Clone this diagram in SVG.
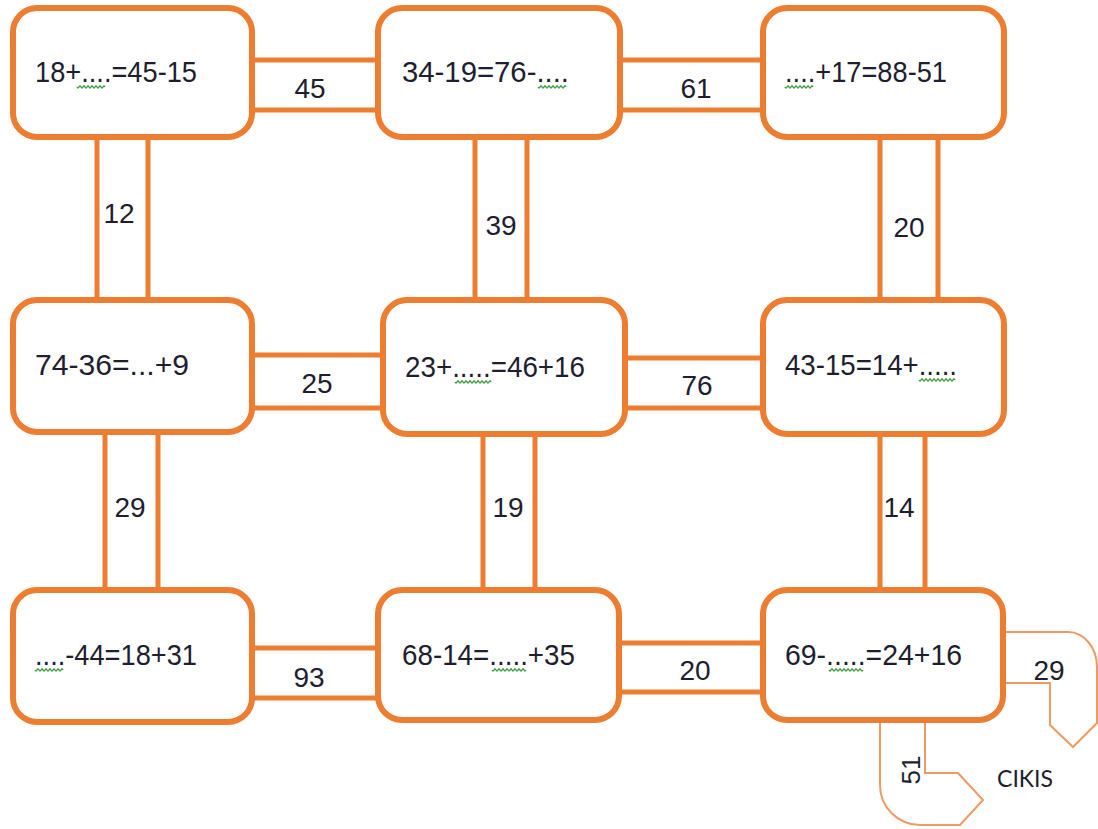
<svg xmlns="http://www.w3.org/2000/svg" width="1098" height="829" viewBox="0 0 1098 829">
<style>
.box{fill:#fff;stroke:#ED7D31;stroke-width:6}
.con{stroke:#ED7D31;stroke-width:5;fill:none}
.exit{stroke:#EE9A62;stroke-width:2;fill:none}
.eq{font-family:"Liberation Sans",Arial,sans-serif;font-size:30px;fill:#1e1e30}
.lbl{font-family:"Liberation Sans",Arial,sans-serif;font-size:28px;fill:#1e1e30;text-anchor:middle}
.wav{stroke:#3c9a3c;stroke-width:1.3;fill:none}
.cik{font-family:Lato,"Liberation Sans",sans-serif;font-size:23px;fill:#1e1e30;text-anchor:middle}
</style>
<rect width="1098" height="829" fill="#fff"/>
<g id="connectors">
<path class="con" d="M252,60H378M252,110H378"/>
<path class="con" d="M620,60H763M620,110H763"/>
<path class="con" d="M252,355H383M252,408H383"/>
<path class="con" d="M625,358H763M625,408H763"/>
<path class="con" d="M252,648H378M252,698H378"/>
<path class="con" d="M619,643H763M619,692H763"/>
<path class="con" d="M97,137V300M148,137V300"/>
<path class="con" d="M475,137V300M527,137V300"/>
<path class="con" d="M880,137V300M938,137V300"/>
<path class="con" d="M105,432V590M158,432V590"/>
<path class="con" d="M483,434V590M535,434V590"/>
<path class="con" d="M880,434V590M925,434V590"/>
<path class="exit" d="M1005,632H1068A29,35 0 0 1 1097,667V723L1073,747L1050,725V683H1005"/>
<path class="exit" d="M880,722V785A40,40 0 0 0 920,825H960L983,800L958,773H925V722"/>
<text class="lbl" x="310" y="98">45</text>
<text class="lbl" x="696" y="98">61</text>
<text class="lbl" x="317" y="393">25</text>
<text class="lbl" x="697" y="395">76</text>
<text class="lbl" x="309" y="687">93</text>
<text class="lbl" x="695" y="680">20</text>
<text class="lbl" x="119" y="223">12</text>
<text class="lbl" x="501" y="235">39</text>
<text class="lbl" x="909" y="237">20</text>
<text class="lbl" x="130" y="517">29</text>
<text class="lbl" x="508" y="517">19</text>
<text class="lbl" x="899" y="517">14</text>
<text class="lbl" x="1049" y="680">29</text>
<text class="lbl" transform="translate(920,770) rotate(-90)" style="font-size:26px">51</text>
<text class="cik" x="1025" y="787">CIKIS</text>
</g>
<g id="n1"><rect class="box" x="13" y="8" width="239" height="129" rx="24"/>
<text class="eq" x="35" y="82" textLength="162" lengthAdjust="spacingAndGlyphs">18+....=45-15</text>
<path class="wav" d="M77,87q1,2 2,0t2,0t2,0t2,0t2,0t2,0t2,0t2,0t2,0t2,0t2,0t2,0t2,0t2,0"/></g>
<g id="n2"><rect class="box" x="378" y="8" width="242" height="129" rx="24"/>
<text class="eq" x="402" y="82" textLength="167" lengthAdjust="spacingAndGlyphs">34-19=76-....</text>
<path class="wav" d="M538,87q1,2 2,0t2,0t2,0t2,0t2,0t2,0t2,0t2,0t2,0t2,0t2,0t2,0t2,0t2,0"/></g>
<g id="n3"><rect class="box" x="763" y="8" width="241" height="129" rx="24"/>
<text class="eq" x="785" y="82" textLength="162" lengthAdjust="spacingAndGlyphs">....+17=88-51</text>
<path class="wav" d="M785,87q1,2 2,0t2,0t2,0t2,0t2,0t2,0t2,0t2,0t2,0t2,0t2,0t2,0t2,0t2,0"/></g>
<g id="n4"><rect class="box" x="13" y="300" width="239" height="132" rx="24"/>
<text class="eq" x="35" y="375" textLength="154" lengthAdjust="spacingAndGlyphs">74-36=...+9</text></g>
<g id="n5"><rect class="box" x="383" y="300" width="242" height="134" rx="24"/>
<text class="eq" x="405" y="377" textLength="180" lengthAdjust="spacingAndGlyphs">23+.....=46+16</text>
<path class="wav" d="M455,382q1,2 2,0t2,0t2,0t2,0t2,0t2,0t2,0t2,0t2,0t2,0t2,0t2,0t2,0t2,0t2,0t2,0t2,0t2,0"/></g>
<g id="n6"><rect class="box" x="763" y="300" width="241" height="134" rx="24"/>
<text class="eq" x="785" y="375" textLength="172" lengthAdjust="spacingAndGlyphs">43-15=14+.....</text>
<path class="wav" d="M919,380q1,2 2,0t2,0t2,0t2,0t2,0t2,0t2,0t2,0t2,0t2,0t2,0t2,0t2,0t2,0t2,0t2,0t2,0t2,0"/></g>
<g id="n7"><rect class="box" x="13" y="590" width="239" height="132" rx="24"/>
<text class="eq" x="35" y="665" textLength="162" lengthAdjust="spacingAndGlyphs">....-44=18+31</text>
<path class="wav" d="M35,670q1,2 2,0t2,0t2,0t2,0t2,0t2,0t2,0t2,0t2,0t2,0t2,0t2,0t2,0t2,0"/></g>
<g id="n8"><rect class="box" x="378" y="590" width="241" height="130" rx="24"/>
<text class="eq" x="402" y="665" textLength="173" lengthAdjust="spacingAndGlyphs">68-14=.....+35</text>
<path class="wav" d="M492,670q1,2 2,0t2,0t2,0t2,0t2,0t2,0t2,0t2,0t2,0t2,0t2,0t2,0t2,0t2,0t2,0t2,0t2,0"/></g>
<g id="n9"><rect class="box" x="763" y="590" width="240" height="130" rx="24"/>
<text class="eq" x="785" y="665" textLength="177" lengthAdjust="spacingAndGlyphs">69-.....=24+16</text>
<path class="wav" d="M829,670q1,2 2,0t2,0t2,0t2,0t2,0t2,0t2,0t2,0t2,0t2,0t2,0t2,0t2,0t2,0t2,0t2,0t2,0"/></g>
</svg>
